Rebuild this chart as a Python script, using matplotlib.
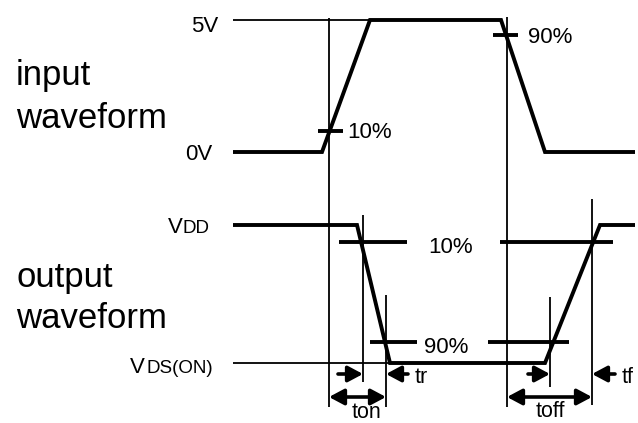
import matplotlib
matplotlib.use('Agg')
import matplotlib.pyplot as plt

plt.rcParams['font.family'] = ['Liberation Sans', 'DejaVu Sans']

# everything is in picture pixels (y grows downward)
in_x = [233, 322, 370, 501, 545, 635]
in_y = [152, 152, 20, 20, 152, 152]
out_x = [233, 357, 390, 545, 600, 635]
out_y = [225, 225, 363, 363, 225, 225]

# thin reference levels: (y, x0, x1)
ref_5v = (20, 233, 370)
ref_vds = (363, 233, 390)

# thin vertical guides: (x, y0, y1)
guides = [(329, 18, 407), (363, 215, 382), (386, 295, 407),
          (507, 17, 407), (550, 297, 387), (592, 199, 405)]

# thick level ticks: (y, x0, x1)
ticks = [(131, 318, 343), (35, 493, 518),
         (242, 339, 407), (242, 500, 613),
         (342, 370, 417), (342, 488, 569)]

# single arrows: (tail x, tip x, y)
single_arrows = [(338, 363, 374), (408, 386, 374),
                 (528, 550, 374), (615, 592, 374)]
# double arrows: (x0, x1, y)
double_arrows = [(329, 386, 397), (507, 592, 397)]

pct_labels = [('10%', 347, 138), ('90%', 528, 43),
              ('10%', 428, 253), ('90%', 424, 353)]
time_labels = [('tr', 415, 383, 'left'), ('tf', 622, 383, 'left'),
               ('ton', 366, 418, 'center'), ('toff', 550, 417, 'center')]

fig = plt.figure(figsize=(6.38, 4.23), dpi=100)
ax = fig.add_axes([0, 0, 1, 1])
ax.set_xlim(0, 638)
ax.set_ylim(423, 0)
ax.axis('off')

thick = 2.8
thin = 1.3
head = '-|>,head_length=0.6,head_width=0.32'
head2 = '<|-|>,head_length=0.6,head_width=0.32'

ax.plot(in_x, in_y, color='k', lw=thick, solid_joinstyle='miter', solid_capstyle='butt')
ax.plot(out_x, out_y, color='k', lw=thick, solid_joinstyle='miter', solid_capstyle='butt')

for y, x0, x1 in [ref_5v, ref_vds]:
    ax.plot([x0, x1], [y, y], color='k', lw=thin, solid_capstyle='butt')
for x, y0, y1 in guides:
    ax.plot([x, x], [y0, y1], color='k', lw=thin, solid_capstyle='butt')
for y, x0, x1 in ticks:
    ax.plot([x0, x1], [y, y], color='k', lw=thick, solid_capstyle='butt')

for x0, x1, y in single_arrows:
    ax.annotate('', xy=(x1, y), xytext=(x0, y),
                arrowprops=dict(arrowstyle=head, lw=2.6, color='k',
                                shrinkA=0, shrinkB=0, mutation_scale=15))
for x0, x1, y in double_arrows:
    ax.annotate('', xy=(x1, y), xytext=(x0, y),
                arrowprops=dict(arrowstyle=head2, lw=2.6, color='k',
                                shrinkA=0, shrinkB=0, mutation_scale=15))

# left labels
ax.text(16, 85, 'input', fontsize=25, va='baseline')
ax.text(16, 128, 'waveform', fontsize=25, va='baseline')
ax.text(16, 287, 'output', fontsize=25, va='baseline')
ax.text(16, 328, 'waveform', fontsize=25, va='baseline')

ax.text(218, 32, '5V', fontsize=16, ha='right', va='baseline')
ax.text(212, 160, '0V', fontsize=16, ha='right', va='baseline')
ax.text(168, 233, 'V', fontsize=16, ha='left', va='baseline')
ax.text(183, 233, 'DD', fontsize=13.5, ha='left', va='baseline')
ax.text(130, 373, 'V', fontsize=16, ha='left', va='baseline')
ax.text(146, 373, 'DS(ON)', fontsize=13.5, ha='left', va='baseline')

for s, x, y in pct_labels:
    ax.text(x, y, s, fontsize=16, ha='left', va='baseline')
for s, x, y, h in time_labels:
    ax.text(x, y, s, fontsize=15.5, ha=h, va='baseline')

fig.savefig('out.png', dpi=100)
